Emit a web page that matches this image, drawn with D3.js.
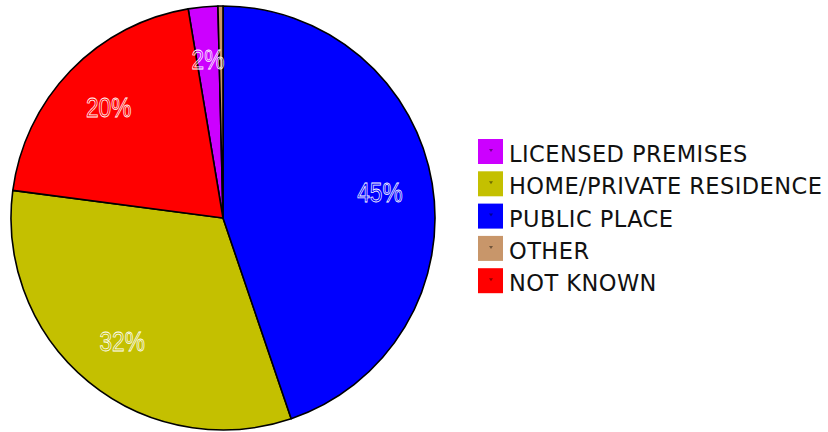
<!DOCTYPE html>
<html>
<head>
<meta charset="utf-8">
<script src="https://cdn.jsdelivr.net/npm/d3@7"></script>
<style>
  html, body { margin: 0; padding: 0; background: #fff; }
  svg { display: block; }
</style>
</head>
<body>
<svg id="chart" width="828" height="432"></svg>
<script>
// Legend order
const categories = ["LICENSED PREMISES", "HOME/PRIVATE RESIDENCE", "PUBLIC PLACE", "OTHER", "NOT KNOWN"];
const values = [2.25, 32.3, 44.8, 0.38, 20.3];
const colors = ["#CC00FF", "#C4C000", "#0000FF", "#C8966A", "#FF0000"];
// Order of slices clockwise from 12 o'clock
const sliceOrder = ["PUBLIC PLACE", "HOME/PRIVATE RESIDENCE", "NOT KNOWN", "LICENSED PREMISES", "OTHER"];

const data = categories.map((c, i) => ({ name: c, value: values[i], color: colors[i] }));
const total = d3.sum(values);

const svg = d3.select("#chart");
const cx = 223, cy = 218, r = 212;

const pie = d3.pie()
  .value(d => d.value)
  .sort((a, b) => sliceOrder.indexOf(a.name) - sliceOrder.indexOf(b.name));
const arcs = pie(data);
const arc = d3.arc().innerRadius(0).outerRadius(r);
const labelArc = d3.arc().innerRadius(r * 0.75).outerRadius(r * 0.75);

const g = svg.append("g").attr("transform", `translate(${cx},${cy})`);

g.selectAll("path.slice")
  .data(arcs)
  .join("path")
  .attr("class", "slice")
  .attr("d", arc)
  .attr("fill", d => d.data.color)
  .attr("stroke", "#000")
  .attr("stroke-width", 1.6)
  .attr("stroke-linejoin", "round");

g.selectAll("text.lbl")
  .data(arcs.filter(d => Math.round(d.data.value / total * 100) >= 1))
  .join("text")
  .attr("class", "lbl")
  .attr("transform", d => {
    const [x, y] = labelArc.centroid(d);
    return `translate(${x},${y}) scale(0.84,1)`;
  })
  .attr("text-anchor", "middle")
  .attr("dy", "0.36em")
  .attr("font-family", "Liberation Sans, Arial, sans-serif")
  .attr("font-size", 27)
  .attr("fill", "none")
  .attr("stroke", "#fff")
  .attr("stroke-width", 0.75)
  .text(d => Math.round(d.data.value / total * 100) + "%");

// Legend
const legend = svg.append("g").attr("transform", "translate(478,139)");
const step = 32.3;
const item = legend.selectAll("g.item")
  .data(data)
  .join("g")
  .attr("class", "item")
  .attr("transform", (d, i) => `translate(0,${i * step})`);

item.append("rect")
  .attr("width", 25)
  .attr("height", 25)
  .attr("fill", d => d.color);

item.append("path")
  .attr("d", "M11,10 L15,10 L13,13 Z")
  .attr("fill", d => d3.color(d.color).darker(1.6));

item.append("text")
  .attr("x", 31)
  .attr("y", 23)
  .attr("font-family", "DejaVu Sans, Verdana, sans-serif")
  .attr("font-size", 22.5)
  .attr("letter-spacing", 0.45)
  .attr("fill", "#111")
  .text(d => d.name);
</script>
</body>
</html>
